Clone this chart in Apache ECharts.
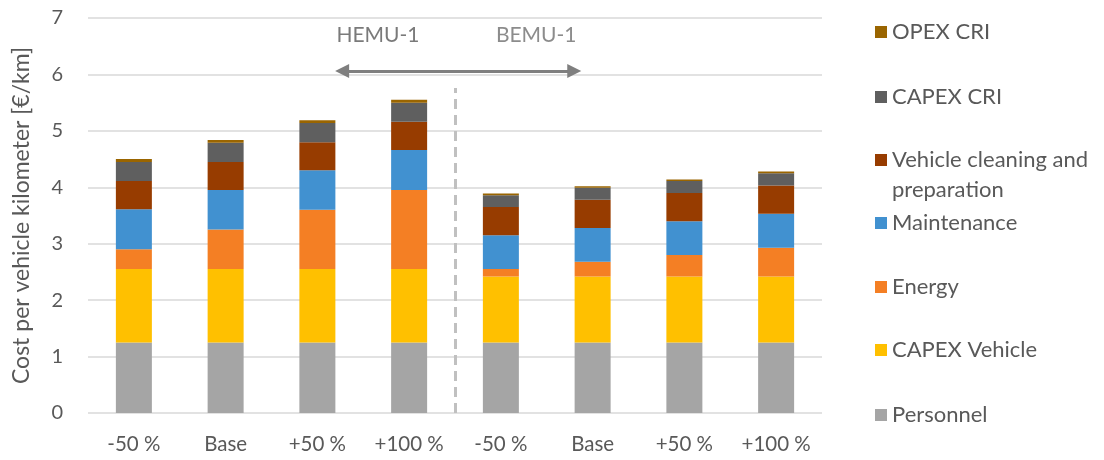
<!DOCTYPE html>
<html>
<head>
<meta charset="utf-8">
<script src="https://cdn.jsdelivr.net/npm/echarts@6/dist/echarts.min.js"></script>
<style>
  html, body { margin: 0; padding: 0; background: #fff; }
  #chart { width: 1104px; height: 460px; }
</style>
</head>
<body>
<div id="chart"></div>
<script>
// Scenario categories (HEMU-1 first four, BEMU-1 last four)
const categories = ['-50 %', 'Base', '+50 %', '+100 %', '-50 %', 'Base', '+50 %', '+100 %'];
const yTicks = [0, 1, 2, 3, 4, 5, 6, 7];

// Cost components in €/km, stacked bottom to top
const personnel    = [1.25, 1.25, 1.25, 1.25, 1.25, 1.25, 1.25, 1.25];
const capexVehicle = [1.30, 1.30, 1.30, 1.30, 1.17, 1.17, 1.17, 1.17];
const energy       = [0.35, 0.70, 1.05, 1.40, 0.13, 0.26, 0.38, 0.51];
const maintenance  = [0.71, 0.70, 0.70, 0.71, 0.60, 0.60, 0.60, 0.60];
const cleaning     = [0.50, 0.50, 0.50, 0.50, 0.50, 0.50, 0.50, 0.50];
const capexCri     = [0.34, 0.34, 0.34, 0.34, 0.21, 0.21, 0.21, 0.22];
const opexCri      = [0.05, 0.05, 0.05, 0.05, 0.03, 0.03, 0.03, 0.03];

const seriesNames = ['Personnel', 'CAPEX Vehicle', 'Energy', 'Maintenance',
  'Vehicle cleaning and preparation', 'CAPEX CRI', 'OPEX CRI'];
const seriesData = [personnel, capexVehicle, energy, maintenance, cleaning, capexCri, opexCri];
const seriesColors = ['#a5a5a5', '#ffc000', '#f47f24', '#4191d0', '#973c00', '#5f5f5f', '#9a6500'];

const FONT = 'Lato';
const TXT = '#595959';

const barSeries = seriesNames.map((name, i) => ({
  name: name,
  type: 'bar',
  stack: 'cost',
  barWidth: 36,
  data: seriesData[i],
  itemStyle: { color: seriesColors[i] },
  emphasis: { disabled: true }
}));

// Legend entries listed top to bottom, with vertical centres in px
const legendOrder = ['OPEX CRI', 'CAPEX CRI', 'Vehicle cleaning and preparation',
  'Maintenance', 'Energy', 'CAPEX Vehicle', 'Personnel'];
const legendCenters = [32, 97, 160, 223, 287, 350, 415];

const legends = legendOrder.map((name, i) => {
  const twoLine = name === 'Vehicle cleaning and preparation';
  return {
    data: [name],
    orient: 'vertical',
    left: 875,
    // the wrapped entry gets an empty leading line so its icon sits on the first text line
    top: twoLine ? legendCenters[i] - 45 : legendCenters[i] - 11,
    padding: 0,
    itemWidth: 12,
    itemHeight: 12,
    selectedMode: false,
    icon: 'rect',
    formatter: twoLine ? () => ' \nVehicle cleaning and\npreparation' : undefined,
    textStyle: {
      fontFamily: FONT,
      fontSize: 22,
      color: TXT,
      lineHeight: twoLine ? 30 : 22
    }
  };
});

// Group annotations drawn on a hidden value axis spanning the category slots
const groupLabels = [[2.66, 6.70, 'HEMU-1'], [4.385, 6.70, 'BEMU-1']];

const option = {
  animation: false,
  backgroundColor: '#ffffff',
  grid: { left: 88, right: 282, top: 18, bottom: 47 },
  legend: legends,
  xAxis: [
    {
      type: 'category',
      data: categories,
      axisLine: { show: false },
      axisTick: { show: false },
      axisLabel: { fontFamily: FONT, fontSize: 20.5, color: TXT, margin: 21 }
    },
    { type: 'value', min: -0.5, max: 7.5, show: false }
  ],
  yAxis: {
    type: 'value',
    min: yTicks[0],
    max: yTicks[yTicks.length - 1],
    interval: 1,
    name: 'Cost per vehicle kilometer [€/km]',
    nameLocation: 'middle',
    nameGap: 55,
    nameTextStyle: { fontFamily: FONT, fontSize: 23, color: TXT },
    axisLine: { show: false },
    axisTick: { show: false },
    axisLabel: { fontFamily: FONT, fontSize: 20, color: TXT, margin: 25 },
    splitLine: { lineStyle: { color: '#d9d9d9', width: 1.5 } }
  },
  series: barSeries.concat([{
    name: 'groups',
    type: 'scatter',
    xAxisIndex: 1,
    symbolSize: 0,
    silent: true,
    data: groupLabels.map(d => ({
      value: [d[0], d[1]],
      label: {
        show: true,
        position: 'inside',
        formatter: d[2],
        fontFamily: FONT,
        fontSize: 21,
        color: d[2] === 'HEMU-1' ? '#595959' : '#6f6f6f'
      }
    })),
    markLine: {
      silent: true,
      animation: false,
      label: { show: false },
      emphasis: { disabled: true },
      data: [
        [
          { coord: [3.5, 0], symbol: 'none', lineStyle: { color: '#c0c0c0', width: 3, type: [10, 6] } },
          { coord: [3.5, 5.76], symbol: 'none' }
        ],
        [
          { coord: [2.27, 6.06], symbol: 'triangle', symbolSize: [14, 14], lineStyle: { color: '#7f7f7f', width: 3, type: 'solid' } },
          { coord: [4.80, 6.06], symbol: 'triangle', symbolSize: [14, 14] }
        ]
      ]
    }
  }])
};

const chart = echarts.init(document.getElementById('chart'), null, { renderer: 'canvas' });
chart.setOption(option);
</script>
</body>
</html>
